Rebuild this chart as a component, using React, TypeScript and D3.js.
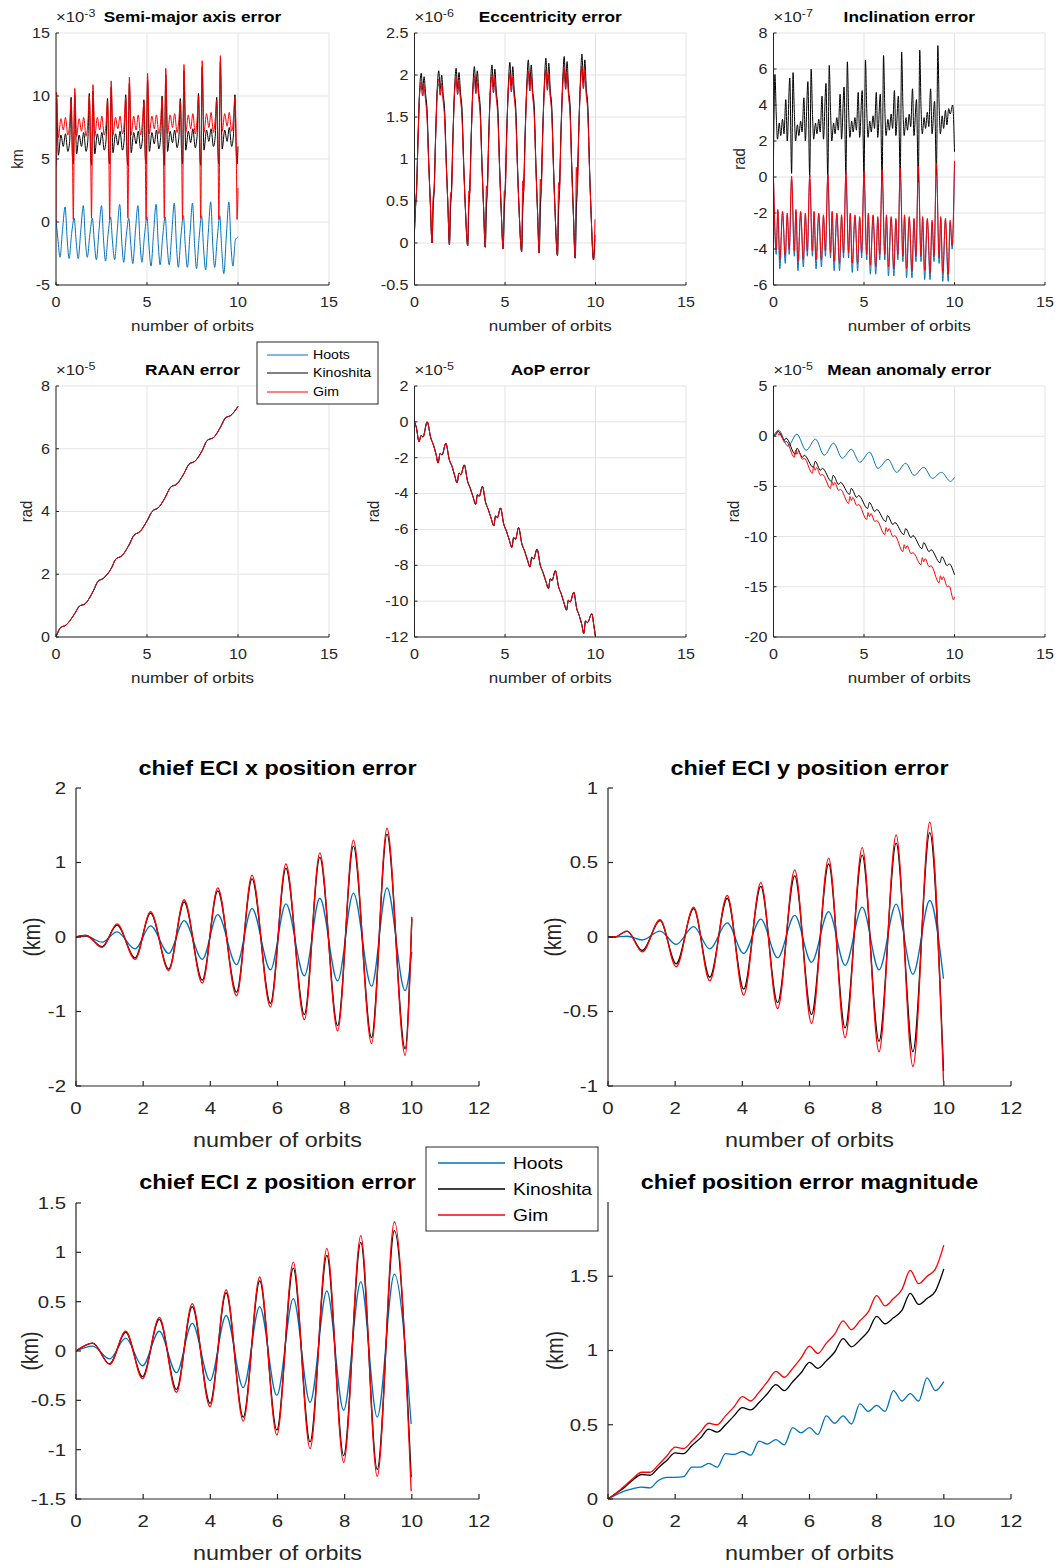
import React from "react";
import * as d3 from "d3";

const FONT = "'Liberation Sans', Arial, Helvetica, sans-serif";
const C_HOOTS = "#0072BD";
const C_KINO = "#000000";
const C_GIM = "#FF0000";
const AXIS = "#262626";
const GRID = "#e3e3e3";

const LEGEND_NAMES = ["Hoots", "Kinoshita", "Gim"];
const LEGEND_COLORS = [C_HOOTS, C_KINO, C_GIM];

// ---------- Semi-major axis error (x1e-3 km) ----------
const SMA_X = [0,
  0.03,0.13,0.27,0.4,0.52,0.65,0.75,0.83,0.9,0.95,
  1.03,1.13,1.27,1.4,1.52,1.65,1.75,1.83,1.9,1.95,
  2.03,2.13,2.27,2.4,2.52,2.65,2.75,2.83,2.9,2.95,
  3.03,3.13,3.27,3.4,3.52,3.65,3.75,3.83,3.9,3.95,
  4.03,4.13,4.27,4.4,4.52,4.65,4.75,4.83,4.9,4.95,
  5.03,5.13,5.27,5.4,5.52,5.65,5.75,5.83,5.9,5.95,
  6.03,6.13,6.27,6.4,6.52,6.65,6.75,6.83,6.9,6.95,
  7.03,7.13,7.27,7.4,7.52,7.65,7.75,7.83,7.9,7.95,
  8.03,8.13,8.27,8.4,8.52,8.65,8.75,8.83,8.9,8.95,
  9.03,9.13,9.27,9.4,9.52,9.65,9.75,9.83,9.9,9.95,
  10.0];
const SMA_GIM = [0,
  10.3,6.7,8.2,7.3,8.3,6.9,7.8,9.7,6.0,0.2,
  10.6,6.8,8.2,7.2,8.3,6.8,7.9,10.0,6.1,0.3,
  10.9,6.8,8.3,7.3,8.4,6.9,7.8,9.6,6.0,0.2,
  11.2,6.9,8.3,7.4,8.4,7.0,7.9,9.9,6.2,0.3,
  11.5,6.9,8.4,7.3,8.5,6.9,8.0,9.5,6.1,0.2,
  11.8,7.0,8.4,7.4,8.5,7.0,8.0,9.8,6.2,0.3,
  12.2,7.0,8.5,7.5,8.6,7.1,8.1,9.6,6.3,0.2,
  12.5,7.1,8.5,7.4,8.6,7.0,8.1,10.0,6.2,0.3,
  12.8,7.1,8.6,7.5,8.7,7.1,8.2,9.7,6.3,0.2,
  13.2,7.2,8.6,7.6,8.7,7.2,8.2,9.9,6.4,0.2,
  2.7];
const SMA_KINOSHITA = [4.5,
  9.8,5.3,6.9,6.0,7.0,5.6,6.4,9.9,5.2,4.6,
  10.1,5.4,6.9,6.0,7.1,5.6,6.5,10.2,5.3,4.5,
  10.4,5.4,7.0,6.1,7.1,5.7,6.5,9.8,5.2,4.6,
  10.7,5.5,7.0,6.1,7.2,5.7,6.6,10.1,5.3,4.5,
  11.0,5.5,7.1,6.2,7.2,5.8,6.6,9.7,5.3,4.6,
  11.3,5.6,7.1,6.2,7.3,5.8,6.7,10.0,5.4,4.5,
  11.7,5.6,7.2,6.3,7.3,5.9,6.7,9.8,5.4,4.6,
  12.0,5.7,7.2,6.3,7.4,5.9,6.8,10.2,5.5,4.5,
  12.3,5.7,7.3,6.4,7.4,6.0,6.8,9.9,5.5,4.6,
  12.7,5.8,7.3,6.4,7.5,6.0,6.9,10.1,5.6,4.6,
  6.0];
const SMA_HOOTS_X = [
  0,0.1,0.22,0.36,0.5,0.62,0.72,0.86,
  1,1.1,1.22,1.36,1.5,1.62,1.72,1.86,
  2,2.1,2.22,2.36,2.5,2.62,2.72,2.86,
  3,3.1,3.22,3.36,3.5,3.62,3.72,3.86,
  4,4.1,4.22,4.36,4.5,4.62,4.72,4.86,
  5,5.1,5.22,5.36,5.5,5.62,5.72,5.86,
  6,6.1,6.22,6.36,6.5,6.62,6.72,6.86,
  7,7.1,7.22,7.36,7.5,7.62,7.72,7.86,
  8,8.1,8.22,8.36,8.5,8.62,8.72,8.86,
  9,9.1,9.22,9.36,9.5,9.62,9.72,9.86,
  10];
const SMA_HOOTS = [
  0.2,-1.3,-2.8,-0.6,1.2,-1.5,-2.9,-0.9,
  0.3,-1.4,-2.9,-0.7,1.3,-1.6,-2.8,-1.0,
  0.3,-1.5,-3.0,-0.7,1.3,-1.6,-3.1,-1.0,
  0.4,-1.5,-3.0,-0.8,1.4,-1.7,-3.2,-1.1,
  0.3,-1.6,-3.3,-0.8,1.3,-1.7,-3.2,-1.1,
  0.4,-1.7,-3.5,-0.9,1.4,-1.8,-3.4,-1.2,
  0.4,-1.7,-3.4,-0.9,1.5,-1.9,-3.6,-1.2,
  0.5,-1.8,-3.6,-1.0,1.5,-1.9,-3.7,-1.3,
  0.5,-1.9,-3.8,-1.0,1.6,-2.0,-3.6,-1.3,
  0.5,-2.0,-4.1,-1.1,1.6,-2.0,-3.5,-1.4,
  -1.2];

// ---------- Eccentricity error (x1e-6) ----------
const ECC_X = [
  0,0.06,0.11,0.2,0.29,0.37,0.45,0.53,0.61,0.69,0.79,0.87,
  0.97,1.03,1.08,1.17,1.26,1.34,1.42,1.5,1.58,1.66,1.76,1.84,
  1.93,1.99,2.04,2.13,2.22,2.3,2.38,2.46,2.54,2.62,2.72,2.8,
  2.94,3.0,3.05,3.14,3.23,3.31,3.39,3.47,3.55,3.63,3.73,3.81,
  3.91,3.97,4.02,4.11,4.2,4.28,4.36,4.44,4.52,4.6,4.7,4.78,
  4.9,4.96,5.01,5.1,5.19,5.27,5.35,5.43,5.51,5.59,5.69,5.77,
  5.92,5.98,6.03,6.12,6.21,6.29,6.37,6.45,6.53,6.61,6.71,6.79,
  6.89,6.95,7.0,7.09,7.18,7.26,7.34,7.42,7.5,7.58,7.68,7.76,
  7.9,7.96,8.01,8.1,8.19,8.27,8.35,8.43,8.51,8.59,8.69,8.77,
  8.88,8.94,8.99,9.08,9.17,9.25,9.33,9.41,9.49,9.57,9.67,9.75,
  9.89,9.97];
const ECC_KINOSHITA = [
  0.15,0.45,0.62,1.3,1.85,2.02,1.82,1.98,1.78,1.6,0.95,0.5,
  0.0,0.45,0.62,1.3,1.86,2.05,1.83,2.0,1.78,1.6,0.95,0.48,
  -0.02,0.44,0.62,1.32,1.87,2.08,1.84,2.03,1.79,1.61,0.94,0.47,
  -0.03,0.44,0.63,1.33,1.88,2.1,1.85,2.05,1.8,1.62,0.94,0.46,
  -0.05,0.43,0.63,1.34,1.9,2.12,1.86,2.07,1.8,1.62,0.93,0.45,
  -0.07,0.43,0.64,1.35,1.91,2.15,1.87,2.1,1.81,1.63,0.93,0.44,
  -0.1,0.42,0.64,1.36,1.92,2.18,1.88,2.12,1.82,1.64,0.92,0.42,
  -0.12,0.42,0.65,1.37,1.93,2.2,1.89,2.14,1.82,1.64,0.92,0.41,
  -0.15,0.41,0.65,1.38,1.94,2.22,1.9,2.16,1.83,1.65,0.91,0.4,
  -0.18,0.41,0.66,1.39,1.95,2.25,1.91,2.18,1.84,1.66,0.91,0.39,
  -0.2,0.1];
const ECC_GIM = [
  0.15,0.45,0.6,1.25,1.8,1.92,1.75,1.88,1.7,1.5,0.9,0.5,
  0.0,0.55,0.6,1.26,1.81,1.95,1.76,1.9,1.7,1.5,0.9,0.48,
  -0.02,0.6,0.58,1.27,1.82,1.97,1.77,1.93,1.71,1.51,0.89,0.47,
  -0.03,0.62,0.58,1.28,1.83,1.99,1.78,1.95,1.72,1.52,0.89,0.46,
  -0.05,0.68,0.6,1.29,1.84,2.01,1.79,1.96,1.72,1.52,0.88,0.45,
  -0.07,0.62,0.6,1.3,1.85,2.03,1.8,1.98,1.73,1.53,0.88,0.44,
  -0.1,0.74,0.6,1.31,1.86,2.05,1.81,2.0,1.74,1.54,0.87,0.42,
  -0.12,0.76,0.62,1.32,1.87,2.07,1.82,2.02,1.74,1.54,0.87,0.41,
  -0.15,0.72,0.62,1.33,1.88,2.09,1.83,2.04,1.75,1.55,0.86,0.4,
  -0.18,0.9,0.62,1.34,1.89,2.11,1.84,2.06,1.76,1.56,0.86,0.39,
  -0.2,0.28];
const ECC_HOOTS = [
  0.15,0.42,0.6,1.28,1.8,1.87,1.75,1.83,1.72,1.55,0.92,0.5,
  0.0,0.42,0.6,1.29,1.81,1.9,1.76,1.85,1.72,1.55,0.92,0.48,
  -0.02,0.41,0.6,1.3,1.82,1.93,1.77,1.88,1.73,1.56,0.91,0.47,
  -0.03,0.41,0.61,1.31,1.83,1.95,1.78,1.9,1.74,1.57,0.91,0.46,
  -0.05,0.4,0.61,1.32,1.84,1.97,1.79,1.92,1.74,1.57,0.9,0.45,
  -0.07,0.4,0.62,1.33,1.85,2.0,1.8,1.95,1.75,1.58,0.9,0.44,
  -0.1,0.39,0.62,1.34,1.86,2.03,1.81,1.97,1.76,1.59,0.89,0.42,
  -0.12,0.39,0.63,1.35,1.87,2.05,1.82,1.99,1.76,1.59,0.89,0.41,
  -0.15,0.38,0.63,1.36,1.88,2.07,1.83,2.01,1.77,1.6,0.88,0.4,
  -0.18,0.38,0.64,1.37,1.89,2.1,1.84,2.03,1.78,1.61,0.88,0.39,
  -0.2,0.05];

// ---------- Inclination error (x1e-7 rad) ----------
const INCL_K_X = [
  0,0.08,0.15,0.22,0.32,0.4,0.5,0.58,0.68,0.76,0.9,
  1,1.08,1.15,1.22,1.32,1.4,1.5,1.58,1.68,1.76,1.9,
  2,2.08,2.15,2.22,2.32,2.4,2.5,2.58,2.68,2.76,2.9,
  3,3.08,3.15,3.22,3.32,3.4,3.5,3.58,3.68,3.76,3.9,
  4,4.08,4.15,4.22,4.32,4.4,4.5,4.58,4.68,4.76,4.9,
  5,5.08,5.15,5.22,5.32,5.4,5.5,5.58,5.68,5.76,5.9,
  6,6.08,6.15,6.22,6.32,6.4,6.5,6.58,6.68,6.76,6.9,
  7,7.08,7.15,7.22,7.32,7.4,7.5,7.58,7.68,7.76,7.9,
  8,8.08,8.15,8.22,8.32,8.4,8.5,8.58,8.68,8.76,8.9,
  9,9.08,9.15,9.22,9.32,9.4,9.5,9.58,9.68,9.76,9.9,
  10];
const INCL_KINOSHITA = [
  1.0,5.7,3.5,2.1,3.0,2.3,3.2,2.4,4.3,2.0,5.5,
  0.2,5.8,3.6,2.0,2.9,2.3,3.1,2.5,4.4,2.0,5.3,
  0.0,6.0,3.6,2.1,3.0,2.4,3.2,2.5,4.5,2.1,5.2,
  -0.1,6.2,3.7,2.0,3.0,2.4,3.3,2.6,4.6,2.1,5.0,
  0.1,6.4,3.7,2.2,3.1,2.5,3.3,2.6,4.7,2.2,4.8,
  0.0,6.5,3.8,2.2,3.1,2.5,3.4,2.7,4.7,2.2,4.6,
  -0.2,6.75,3.8,2.3,3.2,2.6,3.5,2.7,4.8,2.3,4.5,
  0.0,6.95,3.9,2.3,3.3,2.6,3.5,2.8,4.9,2.3,4.3,
  -0.3,7.05,3.9,2.4,3.3,2.7,3.6,2.8,4.9,2.4,4.2,
  0.1,7.3,4.0,2.4,3.4,2.7,3.7,2.9,3.8,3.5,4.0,
  1.4];
const INCL_G_X = [
  0,0.15,0.24,0.35,0.5,0.65,0.76,0.87,
  1,1.15,1.24,1.35,1.5,1.65,1.76,1.87,
  2,2.15,2.24,2.35,2.5,2.65,2.76,2.87,
  3,3.15,3.24,3.35,3.5,3.65,3.76,3.87,
  4,4.15,4.24,4.35,4.5,4.65,4.76,4.87,
  5,5.15,5.24,5.35,5.5,5.65,5.76,5.87,
  6,6.15,6.24,6.35,6.5,6.65,6.76,6.87,
  7,7.15,7.24,7.35,7.5,7.65,7.76,7.87,
  8,8.15,8.24,8.35,8.5,8.65,8.76,8.87,
  9,9.15,9.24,9.35,9.5,9.65,9.76,9.87,
  10];
const INCL_GIM = [
  0.0,-4.0,-1.8,-4.6,-1.9,-4.4,-2.0,-4.0,
  0.05,-4.1,-1.8,-4.7,-1.9,-4.6,-2.0,-4.1,
  0.1,-4.1,-1.9,-4.6,-2.0,-4.6,-2.1,-4.1,
  0.15,-4.2,-1.9,-4.7,-2.0,-4.8,-2.1,-4.2,
  0.25,-4.2,-2.0,-4.8,-2.1,-4.8,-2.2,-4.2,
  0.3,-4.3,-2.0,-4.9,-2.1,-5.0,-2.2,-4.3,
  0.4,-4.3,-2.1,-5.0,-2.2,-5.1,-2.3,-4.3,
  0.5,-4.4,-2.1,-5.1,-2.2,-5.2,-2.3,-4.4,
  0.6,-4.4,-2.2,-5.2,-2.3,-5.3,-2.4,-4.4,
  0.75,-4.5,-2.2,-5.3,-2.3,-5.4,-2.4,-3.8,
  0.9];
const INCL_HOOTS = [
  -0.2,-4.3,-1.9,-5.1,-2.0,-4.8,-2.1,-4.3,
  -0.15,-4.4,-1.9,-5.2,-2.0,-5.0,-2.1,-4.4,
  -0.1,-4.4,-2.0,-5.1,-2.1,-5.0,-2.2,-4.4,
  -0.05,-4.5,-2.0,-5.2,-2.1,-5.2,-2.2,-4.5,
  0.05,-4.5,-2.1,-5.3,-2.2,-5.2,-2.3,-4.5,
  0.1,-4.6,-2.1,-5.4,-2.2,-5.4,-2.3,-4.6,
  0.2,-4.6,-2.2,-5.5,-2.3,-5.5,-2.4,-4.6,
  0.3,-4.7,-2.2,-5.6,-2.3,-5.6,-2.4,-4.7,
  0.4,-4.7,-2.3,-5.7,-2.4,-5.7,-2.5,-4.7,
  0.55,-4.8,-2.3,-5.8,-2.4,-5.8,-2.5,-4.0,
  0.7];

// ---------- RAAN error (x1e-5 rad) ----------
const RAAN_X = [0,0.25,0.55,1.0,1.3,1.58,2.05,2.3,2.6,3.05,3.28,3.62,4.0,4.27,4.63,5.0,5.28,5.64,6.0,6.29,6.65,7.02,7.3,7.67,8.03,8.3,8.68,9.04,9.32,9.6,10.0];
const RAAN_VALUES = [0,0.3,0.38,0.72,0.99,1.05,1.47,1.77,1.87,2.2,2.48,2.59,2.92,3.23,3.37,3.7,4.0,4.13,4.45,4.77,4.88,5.2,5.5,5.62,5.94,6.26,6.37,6.69,6.99,7.06,7.35];

// ---------- AoP error (x1e-5 rad) ----------
const AOP_X = [0,0.1,0.25,0.37,0.47,0.7,
  0.9,1.05,1.2,1.3,1.42,1.52,1.73,
  1.92,2.08,2.22,2.35,2.46,2.56,2.75,
  2.93,3.08,3.24,3.38,3.48,3.58,3.75,
  3.93,4.08,4.24,4.38,4.48,4.58,4.75,
  4.93,5.08,5.24,5.38,5.48,5.58,5.75,
  5.93,6.08,6.24,6.38,6.48,6.58,6.77,
  6.95,7.1,7.26,7.4,7.5,7.6,7.78,
  7.96,8.11,8.26,8.4,8.5,8.6,8.8,
  8.96,9.1,9.24,9.35,9.45,9.55,9.8,
  9.9,10.0];
const AOP_VALUES = [0,-0.3,-1.1,-0.75,-0.85,0.0,
  -0.9,-1.3,-1.85,-2.3,-1.75,-1.85,-1.2,
  -2.1,-2.5,-3.0,-3.4,-2.85,-2.95,-2.4,
  -3.3,-3.7,-4.2,-4.6,-4.05,-4.15,-3.6,
  -4.5,-4.9,-5.4,-5.8,-5.25,-5.35,-4.8,
  -5.7,-6.1,-6.6,-7.0,-6.45,-6.55,-5.9,
  -6.8,-7.2,-7.7,-8.1,-7.55,-7.65,-7.1,
  -8.0,-8.4,-8.9,-9.3,-8.75,-8.85,-8.3,
  -9.2,-9.6,-10.1,-10.5,-9.95,-10.05,-9.5,
  -10.4,-10.8,-11.3,-11.8,-11.1,-11.2,-10.7,
  -11.3,-12.0];

// ---------- Mean anomaly error (x1e-5 rad) ----------
const MA_H_X = [0,0.28,0.8,1.29,1.8,2.32,2.8,3.32,3.8,4.3,4.76,5.31,5.77,6.33,6.8,7.3,7.77,8.3,8.78,9.28,9.78,10.0];
const MA_HOOTS = [0,0.6,-1.0,0.2,-1.4,-0.3,-1.9,-0.7,-2.2,-1.3,-2.6,-1.6,-3.2,-2.3,-3.6,-2.7,-3.9,-3.1,-4.2,-3.6,-4.5,-4.1];
const MA_K_X = [0,0.1,0.25,0.6,0.7,
  1.2,1.3,1.6,1.7, 2.2,2.3,2.6,2.7, 3.2,3.3,3.6,3.7, 4.2,4.3,4.6,4.7, 5.2,5.3,5.6,5.7,
  6.2,6.3,6.6,6.7, 7.2,7.3,7.6,7.7, 8.2,8.3,8.6,8.7, 9.2,9.3,9.6,9.7, 10.0];
const MA_KINOSHITA = [0,0.1,0.5,-0.4,-0.2,
  -1.8,-1.2,-2.1,-1.9, -3.1,-2.5,-3.4,-3.2, -4.5,-3.9,-4.8,-4.6, -5.8,-5.2,-6.1,-5.9,
  -7.2,-6.6,-7.5,-7.3, -8.5,-7.9,-8.8,-8.6, -9.8,-9.2,-10.1,-9.9, -11.2,-10.6,-11.5,-11.3,
  -12.6,-12.0,-12.9,-12.7, -13.8];
const MA_G_X = [0,0.1,0.22,0.3,0.38,0.6,0.7,
  1.15,1.22,1.3,1.38,1.6,1.7,
  2.15,2.22,2.3,2.38,2.6,2.7,
  3.15,3.22,3.3,3.38,3.6,3.7,
  4.15,4.22,4.3,4.38,4.6,4.7,
  5.15,5.22,5.3,5.38,5.6,5.7,
  6.15,6.22,6.3,6.38,6.6,6.7,
  7.15,7.22,7.3,7.38,7.6,7.7,
  8.15,8.22,8.3,8.38,8.6,8.7,
  9.15,9.22,9.3,9.38,9.6,9.7,
  9.95,10.0];
const MA_GIM = [0,0.1,0.4,0.1,0.3,-0.6,-0.5,
  -2.1,-1.4,-1.8,-1.5,-2.3,-2.2,
  -3.7,-3.0,-3.4,-3.1,-3.9,-3.8,
  -5.2,-4.5,-4.9,-4.6,-5.4,-5.3,
  -6.7,-6.0,-6.4,-6.1,-6.9,-6.8,
  -8.3,-7.6,-8.0,-7.7,-8.5,-8.4,
  -9.8,-9.1,-9.5,-9.2,-10.0,-9.9,
  -11.5,-10.8,-11.2,-10.9,-11.7,-11.6,
  -12.8,-12.1,-12.5,-12.2,-13.0,-12.9,
  -14.6,-13.9,-14.3,-14.0,-15.0,-14.9,
  -16.3,-16.0];

// ---------- chief ECI x position error (km) ----------
const ECIX_X = [0,0.3,0.78,1.22,1.76,2.22,2.76,3.22,3.76,4.22,4.78,5.24,5.79,6.25,6.8,7.26,7.79,8.26,8.8,9.26,9.8,10.0];
const ECIX_GIM = [0,0.02,-0.14,0.175,-0.3,0.34,-0.45,0.5,-0.62,0.66,-0.79,0.83,-0.94,0.98,-1.11,1.13,-1.26,1.3,-1.43,1.46,-1.59,0.27];
const ECIX_KINOSHITA = [0,0.02,-0.13,0.16,-0.28,0.32,-0.43,0.47,-0.58,0.62,-0.74,0.78,-0.89,0.92,-1.04,1.07,-1.19,1.22,-1.35,1.38,-1.5,0.25];
const ECIX_HOOTS = [0,0.01,-0.07,0.07,-0.16,0.15,-0.22,0.22,-0.3,0.3,-0.37,0.38,-0.44,0.445,-0.52,0.52,-0.59,0.59,-0.66,0.66,-0.72,-0.2];

// ---------- chief ECI y position error (km) ----------
const ECIY_X = [0,0.2,0.57,1.02,1.55,2.03,2.55,3.03,3.55,4.04,4.55,5.05,5.56,6.06,6.57,7.06,7.57,8.07,8.58,9.08,9.58,9.99];
const ECIY_GIM = [0,0.0,0.04,-0.1,0.117,-0.2,0.2,-0.295,0.28,-0.39,0.365,-0.48,0.45,-0.58,0.53,-0.675,0.6,-0.77,0.685,-0.87,0.77,-0.97];
const ECIY_KINOSHITA = [0,0.0,0.04,-0.09,0.11,-0.18,0.19,-0.27,0.26,-0.35,0.34,-0.44,0.41,-0.52,0.49,-0.61,0.55,-0.7,0.63,-0.77,0.7,-0.9];
const ECIY_HOOTS = [0,0.0,0.005,-0.02,0.04,-0.05,0.07,-0.08,0.095,-0.11,0.12,-0.14,0.145,-0.17,0.17,-0.19,0.2,-0.22,0.22,-0.25,0.245,-0.28];

// ---------- chief ECI z position error (km) ----------
const ECIZ_X = [0,0.5,1.0,1.48,1.98,2.48,2.99,3.46,3.99,4.47,4.98,5.47,5.98,6.47,6.97,7.47,7.97,8.48,8.97,9.48,9.98];
const ECIZ_GIM = [0,0.08,-0.135,0.2,-0.28,0.34,-0.42,0.48,-0.565,0.62,-0.71,0.75,-0.85,0.9,-0.99,1.04,-1.13,1.17,-1.27,1.31,-1.42];
const ECIZ_KINOSHITA = [0,0.08,-0.13,0.19,-0.26,0.32,-0.39,0.45,-0.53,0.59,-0.67,0.71,-0.8,0.84,-0.92,0.97,-1.06,1.1,-1.2,1.22,-1.28];
const ECIZ_HOOTS = [0,0.05,-0.08,0.13,-0.15,0.2,-0.22,0.28,-0.3,0.36,-0.37,0.45,-0.45,0.53,-0.52,0.61,-0.6,0.7,-0.67,0.78,-0.74];

// ---------- chief position error magnitude (km) ----------
const MAG_X = [0,0.25,0.5,0.75,1,1.25,1.5,1.75,2,2.25,2.5,2.75,3,3.25,3.5,3.75,4,4.25,4.5,4.75,5,5.25,5.5,5.75,6,6.25,6.5,6.75,7,7.25,7.5,7.75,8,8.25,8.5,8.75,9,9.25,9.5,9.75,10];
const MAG_GIM = [0,0.04,0.09,0.14,0.18,0.18,0.23,0.29,0.35,0.34,0.39,0.45,0.51,0.5,0.56,0.62,0.69,0.66,0.72,0.79,0.86,0.82,0.88,0.95,1.03,0.98,1.05,1.11,1.2,1.14,1.2,1.26,1.37,1.3,1.35,1.41,1.54,1.45,1.5,1.55,1.71];
const MAG_KINOSHITA = [0,0.04,0.08,0.13,0.165,0.16,0.21,0.26,0.31,0.305,0.36,0.41,0.47,0.45,0.5,0.56,0.615,0.6,0.65,0.71,0.77,0.73,0.79,0.85,0.92,0.88,0.93,0.99,1.08,1.025,1.07,1.13,1.23,1.18,1.22,1.27,1.385,1.31,1.35,1.4,1.55];
const MAG_HOOTS = [0,0.03,0.055,0.07,0.08,0.075,0.125,0.145,0.145,0.15,0.215,0.215,0.24,0.215,0.305,0.3,0.32,0.295,0.39,0.37,0.4,0.365,0.48,0.445,0.48,0.435,0.56,0.51,0.56,0.505,0.64,0.59,0.63,0.59,0.73,0.66,0.71,0.66,0.815,0.73,0.79];

// ---------- tick values ----------
const TOP_X_TICKS = [0, 5, 10, 15];
const BOT_X_TICKS = [0, 2, 4, 6, 8, 10, 12];

type Series = { xs: number[]; ys: number[]; color: string };

type PanelProps = {
  id: string;
  left: number; right: number; top: number; bottom: number;
  xDomain: [number, number]; yDomain: [number, number];
  xTicks: number[]; yTicks: number[];
  grid: boolean;
  title: string; titleY: number; titleSize: number;
  xlabel: string; xlabelY: number; labelSize: number;
  ylabel?: string; ylabelX?: number;
  tickSize: number; tickLen: number; xTickDy: number; yTickDx: number;
  exponent?: string; expSize?: number;
  sx: number;
  axisWidth: number;
  lineWidth: number;
  series: Series[];
};

function Txt(props: {
  x: number; y: number; sx: number; size: number; anchor?: string; weight?: number;
  rotate?: number; fill?: string; children: React.ReactNode;
}) {
  const { x, y, sx, size, anchor = "middle", weight = 400, rotate = 0, fill = AXIS, children } = props;
  const tr = `translate(${x},${y}) scale(${sx},1)` + (rotate ? ` rotate(${rotate})` : "");
  return (
    <text transform={tr} fontFamily={FONT} fontSize={size} fontWeight={weight}
      textAnchor={anchor as any} dy="0.35em" fill={fill}>{children}</text>
  );
}

function Panel(p: PanelProps) {
  const x = d3.scaleLinear().domain(p.xDomain).range([p.left, p.right]);
  const y = d3.scaleLinear().domain(p.yDomain).range([p.bottom, p.top]);
  const line = d3.line<[number, number]>()
    .x((d) => x(d[0]))
    .y((d) => y(d[1]))
    .curve(d3.curveMonotoneX);
  const cx = (p.left + p.right) / 2;
  const cy = (p.top + p.bottom) / 2;
  const es = p.expSize || p.tickSize;
  return (
    <g>
      <defs>
        <clipPath id={p.id}>
          <rect x={p.left} y={p.top - 1} width={p.right - p.left} height={p.bottom - p.top + 2} />
        </clipPath>
      </defs>
      {p.grid && p.xTicks.map((t) => (
        <line key={"gx" + t} x1={x(t)} x2={x(t)} y1={p.top} y2={p.bottom} stroke={GRID} strokeWidth={1} />
      ))}
      {p.grid && p.yTicks.map((t) => (
        <line key={"gy" + t} x1={p.left} x2={p.right} y1={y(t)} y2={y(t)} stroke={GRID} strokeWidth={1} />
      ))}
      <g clipPath={`url(#${p.id})`}>
        {p.series.map((s, i) => (
          <path key={i} d={line(d3.zip(s.xs, s.ys) as [number, number][]) || ""} fill="none"
            stroke={s.color} strokeWidth={p.lineWidth} strokeLinejoin="round" />
        ))}
      </g>
      <line x1={p.left} x2={p.right} y1={p.bottom} y2={p.bottom} stroke={AXIS} strokeWidth={p.axisWidth} />
      <line x1={p.left} x2={p.left} y1={p.top} y2={p.bottom} stroke={AXIS} strokeWidth={p.axisWidth} />
      {p.xTicks.map((t) => (
        <g key={"tx" + t}>
          <line x1={x(t)} x2={x(t)} y1={p.bottom} y2={p.bottom - p.tickLen} stroke={AXIS} strokeWidth={p.axisWidth} />
          <Txt x={x(t)} y={p.bottom + p.xTickDy} sx={p.sx} size={p.tickSize}>{String(t)}</Txt>
        </g>
      ))}
      {p.yTicks.map((t) => (
        <g key={"ty" + t}>
          <line x1={p.left} x2={p.left + p.tickLen} y1={y(t)} y2={y(t)} stroke={AXIS} strokeWidth={p.axisWidth} />
          <Txt x={p.left - p.yTickDx} y={y(t)} sx={p.sx} size={p.tickSize} anchor="end">{String(t)}</Txt>
        </g>
      ))}
      <Txt x={cx} y={p.titleY} sx={p.sx} size={p.titleSize} weight={700} fill="#000">{p.title}</Txt>
      <Txt x={cx} y={p.xlabelY} sx={p.sx} size={p.labelSize}>{p.xlabel}</Txt>
      {p.ylabel && (
        <Txt x={p.ylabelX as number} y={cy} sx={p.sx} size={p.labelSize} rotate={-90}>{p.ylabel}</Txt>
      )}
      {p.exponent && (
        <text transform={`translate(${p.left},${p.titleY}) scale(${p.sx},1)`} fontFamily={FONT}
          fontSize={es} fill={AXIS} dy="0.35em">
          {"\u00d710"}
          <tspan dy="-0.45em" fontSize={es * 0.75}>{p.exponent}</tspan>
        </text>
      )}
    </g>
  );
}

function Legend(props: {
  x: number; y: number; w: number; h: number; rows: number[]; lx1: number; lx2: number;
  tx: number; size: number; sx: number; lw: number;
}) {
  const { x, y, w, h, rows, lx1, lx2, tx, size, sx, lw } = props;
  return (
    <g>
      <rect x={x} y={y} width={w} height={h} fill="#fff" stroke={AXIS} strokeWidth={1} />
      {LEGEND_NAMES.map((n, i) => (
        <g key={n}>
          <line x1={lx1} x2={lx2} y1={rows[i]} y2={rows[i]} stroke={LEGEND_COLORS[i]} strokeWidth={lw} />
          <Txt x={tx} y={rows[i]} sx={sx} size={size} anchor="start" fill="#000">{n}</Txt>
        </g>
      ))}
    </g>
  );
}

const range = (a: number, b: number, s: number) => d3.range(a, b + s / 2, s).map((v) => +v.toFixed(2));

export default function App() {
  const TSX = 1.15;
  const BSX = 1.2;
  const topCommon = {
    xDomain: [0, 15] as [number, number], xTicks: TOP_X_TICKS, grid: true,
    titleSize: 15, xlabel: "number of orbits", labelSize: 14.8,
    tickSize: 14, tickLen: 3, xTickDy: 17, yTickDx: 6, sx: TSX, axisWidth: 1, lineWidth: 1,
    expSize: 14.5,
  };
  const row1 = { top: 33, bottom: 285, titleY: 17, xlabelY: 326 };
  const row2 = { top: 386, bottom: 637, titleY: 370, xlabelY: 678 };
  const col1 = { left: 56, right: 329 };
  const col2 = { left: 414.5, right: 686 };
  const col3 = { left: 773.5, right: 1045 };

  const botCommon = {
    xDomain: [0, 12] as [number, number], xTicks: BOT_X_TICKS, grid: false,
    titleSize: 19.5, xlabel: "number of orbits", labelSize: 19.5,
    tickSize: 17, tickLen: 5, xTickDy: 22, yTickDx: 10, sx: BSX, axisWidth: 1.2, lineWidth: 1.3,
  };
  const brow1 = { top: 788, bottom: 1086, titleY: 768, xlabelY: 1140 };
  const brow2 = { top: 1203, bottom: 1499, titleY: 1182, xlabelY: 1553 };
  const bcol1 = { left: 76, right: 479 };
  const bcol2 = { left: 608, right: 1011 };

  const three = (hx: number[], h: number[], kx: number[], k: number[], gx: number[], g: number[]): Series[] => [
    { xs: hx, ys: h, color: C_HOOTS },
    { xs: kx, ys: k, color: C_KINO },
    { xs: gx, ys: g, color: C_GIM },
  ];

  return (
    <svg width={1061} height={1568} style={{ position: "absolute", left: 0, top: 0, background: "#fff" }}>
      <rect x={0} y={0} width={1061} height={1568} fill="#fff" />
      <Panel id="p1" {...topCommon} {...row1} {...col1} yDomain={[-5, 15]} yTicks={range(-5, 15, 5)}
        title="Semi-major axis error" ylabel="km" ylabelX={17} exponent="-3"
        series={three(SMA_HOOTS_X, SMA_HOOTS, SMA_X, SMA_KINOSHITA, SMA_X, SMA_GIM)} />
      <Panel id="p2" {...topCommon} {...row1} {...col2} yDomain={[-0.5, 2.5]} yTicks={range(-0.5, 2.5, 0.5)}
        title="Eccentricity error" exponent="-6"
        series={three(ECC_X, ECC_HOOTS, ECC_X, ECC_KINOSHITA, ECC_X, ECC_GIM)} />
      <Panel id="p3" {...topCommon} {...row1} {...col3} yDomain={[-6, 8]} yTicks={range(-6, 8, 2)}
        title="Inclination error" ylabel="rad" ylabelX={739} exponent="-7"
        series={three(INCL_G_X, INCL_HOOTS, INCL_K_X, INCL_KINOSHITA, INCL_G_X, INCL_GIM)} />
      <Panel id="p4" {...topCommon} {...row2} {...col1} yDomain={[0, 8]} yTicks={range(0, 8, 2)}
        title="RAAN error" ylabel="rad" ylabelX={26} exponent="-5"
        series={three(RAAN_X, RAAN_VALUES, RAAN_X, RAAN_VALUES, RAAN_X, RAAN_VALUES)} />
      <Panel id="p5" {...topCommon} {...row2} {...col2} yDomain={[-12, 2]} yTicks={range(-12, 2, 2)}
        title="AoP error" ylabel="rad" ylabelX={373} exponent="-5"
        series={three(AOP_X, AOP_VALUES, AOP_X, AOP_VALUES, AOP_X, AOP_VALUES)} />
      <Panel id="p6" {...topCommon} {...row2} {...col3} yDomain={[-20, 5]} yTicks={range(-20, 5, 5)}
        title="Mean anomaly error" ylabel="rad" ylabelX={733} exponent="-5"
        series={three(MA_H_X, MA_HOOTS, MA_K_X, MA_KINOSHITA, MA_G_X, MA_GIM)} />
      <Legend x={257} y={342} w={121} h={62} rows={[355, 373, 392]} lx1={267} lx2={308} tx={313}
        size={12.3} sx={TSX} lw={1} />

      <Panel id="b1" {...botCommon} {...brow1} {...bcol1} yDomain={[-2, 2]} yTicks={range(-2, 2, 1)}
        title="chief ECI x position error" ylabel="(km)" ylabelX={32}
        series={three(ECIX_X, ECIX_HOOTS, ECIX_X, ECIX_KINOSHITA, ECIX_X, ECIX_GIM)} />
      <Panel id="b2" {...botCommon} {...brow1} {...bcol2} yDomain={[-1, 1]} yTicks={range(-1, 1, 0.5)}
        title="chief ECI y position error" ylabel="(km)" ylabelX={553}
        series={three(ECIY_X, ECIY_HOOTS, ECIY_X, ECIY_KINOSHITA, ECIY_X, ECIY_GIM)} />
      <Panel id="b3" {...botCommon} {...brow2} {...bcol1} yDomain={[-1.5, 1.5]} yTicks={range(-1.5, 1.5, 0.5)}
        title="chief ECI z position error" ylabel="(km)" ylabelX={30}
        series={three(ECIZ_X, ECIZ_HOOTS, ECIZ_X, ECIZ_KINOSHITA, ECIZ_X, ECIZ_GIM)} />
      <Panel id="b4" {...botCommon} {...brow2} {...bcol2} top={1202} yDomain={[0, 2]} yTicks={[0, 0.5, 1, 1.5]}
        title="chief position error magnitude" ylabel="(km)" ylabelX={555}
        series={three(MAG_X, MAG_HOOTS, MAG_X, MAG_KINOSHITA, MAG_X, MAG_GIM)} />
      <Legend x={426} y={1147} w={172} h={84} rows={[1163, 1189, 1215]} lx1={438} lx2={505} tx={513}
        size={16} sx={BSX} lw={1.3} />
    </svg>
  );
}
